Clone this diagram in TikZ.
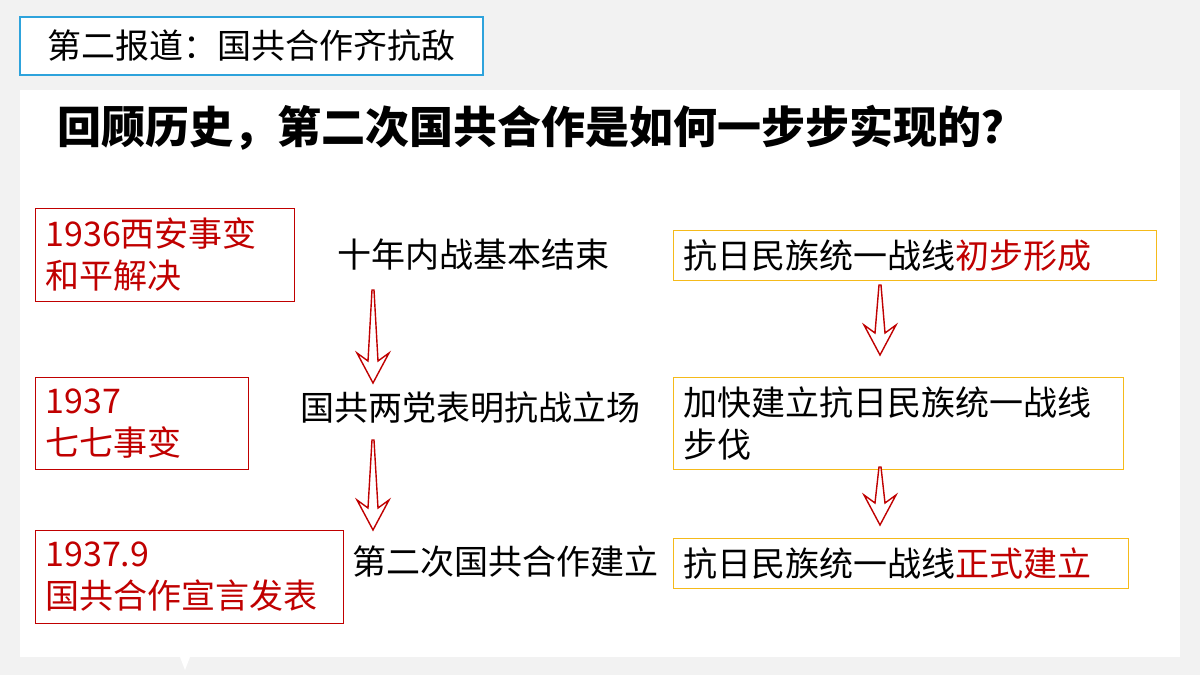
\documentclass[tikz,border=0pt]{standalone}
\usepackage{fontspec}
\setmainfont{Noto Sans CJK SC}
\usetikzlibrary{positioning}
\definecolor{pagegray}{HTML}{F2F2F2}
\definecolor{titleblue}{HTML}{2EA3DC}
\definecolor{darkred}{HTML}{C00000}
\definecolor{boxorange}{HTML}{F5BA1A}
\newcommand{\hollowdown}[3]{%
  \draw[darkred, line width=0.7pt, line join=miter, fill=white]
    (#1-1,#2) -- (#1-5,#3-22) -- (#1-16,#3-30) -- (#1,#3)
    -- (#1+16,#3-30) -- (#1+5,#3-22) -- (#1+1,#2) -- cycle ;}

\begin{document}
\begin{tikzpicture}[x=0.5pt, y=-0.5pt,
    eventbox/.style={draw=darkred, text=darkred, align=left, anchor=north west, inner xsep=5pt, inner ysep=4pt, font=\fontsize{17}{21}\selectfont},
    stagebox/.style={draw=boxorange, line width=0.6pt, align=left, anchor=north west, inner xsep=5pt, inner ysep=4pt, font=\fontsize{17}{21}\selectfont},
    stagetext/.style={font=\fontsize{17}{21}\selectfont}]

% background and panels
\fill[pagegray] (0,0) rectangle (1200,675);
\useasboundingbox (0,0) rectangle (1200,675);
\fill[white] (20,90) rectangle (1180,657);
\fill[white] (180,657) -- (190,657) -- (185,670) -- cycle;
\draw[titleblue, fill=white, line width=0.8pt] (20,17) rectangle (483,75);
\node[font=\fontsize{17}{21}\selectfont] (title) at (251,46) {第二报道：国共合作齐抗敌};

% heading
\node[anchor=west, font=\fontsize{22}{26}\selectfont\bfseries] (question) at (50,128) {回顾历史，第二次国共合作是如何一步步实现的？};

% left events
\node[eventbox, text width=239*0.5pt, minimum height=93*0.5pt] (xian) at (35,208) {1936西安事变\\和平解决};
\node[eventbox, text width=193*0.5pt, minimum height=92*0.5pt] (qiqi) at (35,377) {1937\\七七事变};
\node[eventbox, text width=288*0.5pt, minimum height=93*0.5pt] (xuanyan) at (35,530) {1937.9\\国共合作宣言发表};

% middle stages
\node[stagetext] (neizhan) at (473,255) {十年内战基本结束};
\node[stagetext] (lichang) at (470,408) {国共两党表明抗战立场};
\node[stagetext] (hezuo) at (505,562) {第二次国共合作建立};

% right stages
\node[stagebox, text width=463*0.5pt, minimum height=50*0.5pt] (chubu) at (673,230) {抗日民族统一战线\textcolor{darkred}{初步形成}};
\node[stagebox, text width=430*0.5pt, minimum height=92*0.5pt] (jiakuai) at (673,377) {加快建立抗日民族统一战线\\步伐};
\node[stagebox, text width=435*0.5pt, minimum height=50*0.5pt] (zhengshi) at (673,538) {抗日民族统一战线\textcolor{darkred}{正式建立}};

% arrows
\hollowdown{373}{290}{383}
\hollowdown{373}{440}{530}
\hollowdown{880}{285}{355}
\hollowdown{880}{467}{525}

\end{tikzpicture}
\end{document}
